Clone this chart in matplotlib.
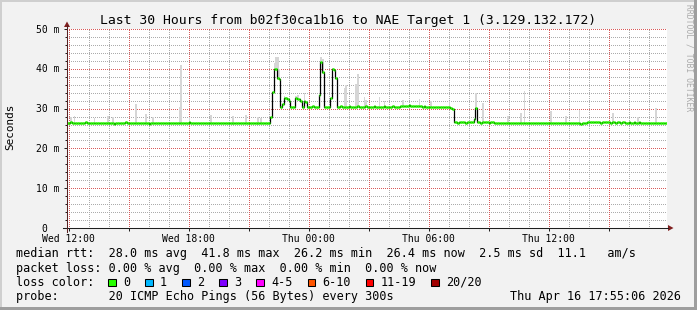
import matplotlib
matplotlib.use('Agg')
import matplotlib.pyplot as plt
from matplotlib.patches import Rectangle, Polygon
from matplotlib.lines import Line2D
from matplotlib.ticker import MultipleLocator
import numpy as np

W, H = 697, 310
MONO = 'DejaVu Sans Mono'

# ---------------- data ----------------
start_hour = 11 + 55.1 / 60      # Wed 11:55:06 (hours since Wed 00:00)
span_hours = 30
step_min = 5

median_ms = [
    26.5, 26.4, 26.6, 26.4, 26.5, 26.3, 26.4, 26.4, 26.5, 26.3, 26.4, 26.6, 26.4, 26.3, 26.4, 26.5, 26.4, 26.3, 26.4, 26.4,
    26.3, 26.4, 26.5, 26.4, 26.4, 26.3, 26.5, 26.4, 26.2, 26.4, 26.5, 26.4, 26.3, 26.4, 26.4, 26.6, 26.4, 26.3, 26.5, 26.4,
    26.4, 26.5, 26.3, 26.4, 26.4, 26.3, 26.5, 26.4, 26.4, 26.2, 26.4, 26.5, 26.3, 26.4, 26.4, 26.5, 26.3, 26.4, 26.4, 26.5,
    26.4, 26.3, 26.4, 26.5, 26.4, 26.4, 26.3, 26.4, 26.5, 26.4, 26.3, 26.4, 26.4, 26.6, 26.4, 26.3, 26.4, 26.5, 26.4, 26.4,
    26.3, 26.4, 26.5, 26.4, 26.4, 26.3, 26.4, 26.5, 26.4, 26.4, 26.3, 26.5, 26.4, 26.4, 26.3, 26.4, 26.4, 26.5, 26.4, 26.3,
    26.4, 26.4, 26.5, 26.3, 26.4, 26.4, 26.5, 26.4, 26.3, 26.4, 26.4, 26.5, 26.4, 26.4, 26.3, 26.4, 26.5, 26.4, 26.4, 26.3,
    26.4, 26.5, 27.8, 34.1, 39.9, 39.9, 37.6, 37.5, 30.5, 31.2, 32.6, 32.7, 32.4, 32.0, 30.5, 30.4, 30.5, 32.6, 32.4, 32.3,
    31.8, 30.4, 31.9, 31.7, 30.4, 30.5, 30.4, 30.6, 30.5, 30.5, 30.4, 33.4, 41.8, 39.1, 30.5, 30.5, 30.4, 30.5, 32.6, 39.9,
    39.8, 37.6, 30.5, 30.5, 30.6, 30.5, 30.4, 30.5, 30.5, 30.6, 30.5, 30.4, 30.5, 30.5, 30.6, 30.5, 30.5, 30.4, 30.5, 30.6,
    30.5, 30.5, 30.4, 30.5, 30.6, 30.5, 30.5, 30.4, 30.5, 30.5, 30.6, 30.5, 30.5, 30.4, 30.5, 30.6, 30.5, 30.5, 30.5, 30.4,
    30.6, 30.7, 30.6, 30.7, 30.6, 30.8, 30.7, 30.6, 30.7, 30.6, 30.7, 30.6, 30.6, 30.5, 30.6, 30.5, 30.5, 30.4, 30.5, 30.4,
    30.4, 30.5, 30.4, 30.3, 30.4, 30.4, 30.3, 30.4, 30.4, 30.3, 30.2, 29.9, 26.6, 26.6, 26.5, 26.6, 26.7, 26.6, 26.6, 26.5,
    26.6, 26.6, 26.7, 26.6, 27.5, 30.1, 26.6, 26.6, 26.5, 26.6, 26.6, 26.7, 26.6, 26.5, 26.6, 26.6, 26.5, 26.4, 26.4, 26.3,
    26.3, 26.4, 26.3, 26.3, 26.4, 26.3, 26.4, 26.4, 26.5, 26.4, 26.4, 26.5, 26.4, 26.4, 26.5, 26.4, 26.5, 26.4, 26.4, 26.5,
    26.4, 26.5, 26.4, 26.5, 26.4, 26.4, 26.5, 26.4, 26.5, 26.4, 26.5, 26.4, 26.4, 26.5, 26.4, 26.5, 26.4, 26.4, 26.5, 26.4,
    26.5, 26.4, 26.4, 26.5, 26.4, 26.5, 26.4, 26.3, 26.2, 26.3, 26.4, 26.5, 26.6, 26.6, 26.7, 26.6, 26.6, 26.7, 26.6, 26.6,
    26.5, 26.6, 26.6, 26.7, 26.6, 26.6, 26.5, 26.6, 26.6, 26.5, 26.6, 26.6, 26.5, 26.6, 26.6, 26.5, 26.5, 26.6, 26.5, 26.5,
    26.6, 26.5, 26.5, 26.6, 26.5, 26.5, 26.4, 26.5, 26.5, 26.4, 26.4, 26.5, 26.4, 26.4, 26.3, 26.4, 26.3, 26.3, 26.4, 26.4,
]

# smoke spikes (sample index, max ping in ms)
spike_idx = [2, 4, 16, 24, 27, 41, 47, 51, 67, 68, 73, 86, 99, 107, 114, 116,
             124, 125, 126, 127, 130, 131, 137, 138, 142, 152, 153, 159, 160,
             166, 167, 173, 174, 178, 179, 187, 190, 201, 211, 218, 229,
             245, 249, 264, 272, 274, 290, 299, 307, 327, 342, 353]
spike_top_ms = [28.0, 28.2, 27.6, 28.1, 28.0, 31.2, 28.6, 28.0, 30.5, 40.9, 27.8, 28.4, 28.1, 28.4, 28.0, 27.6,
                41.5, 42.9, 42.9, 40.0, 33.1, 33.0, 33.2, 33.5, 33.8, 43.0, 42.5, 40.2, 40.0,
                35.1, 35.9, 36.2, 38.6, 33.0, 32.2, 33.0, 32.0, 32.2, 32.4, 31.8, 31.8,
                33.8, 31.3, 28.1, 28.8, 34.3, 29.5, 28.2, 29.6, 28.8, 27.8, 30.1]

x_tick_hours = [12, 18, 24, 30, 36]
x_tick_labels = ['Wed 12:00', 'Wed 18:00', 'Thu 00:00', 'Thu 06:00', 'Thu 12:00']
y_ticks = [0, 10, 20, 30, 40, 50]
y_tick_labels = ['0', '10 m', '20 m', '30 m', '40 m', '50 m']

title = 'Last 30 Hours from b02f30ca1b16 to NAE Target 1 (3.129.132.172)'
stats_line1 = 'median rtt:  28.0 ms avg  41.8 ms max  26.2 ms min  26.4 ms now  2.5 ms sd  11.1   am/s'
stats_line2 = 'packet loss: 0.00 % avg  0.00 % max  0.00 % min  0.00 % now'
loss_title = 'loss color:'
loss_labels = ['0', '1', '2', '3', '4-5', '6-10', '11-19', '20/20']
loss_colors = ['#26ff00', '#00b8ff', '#0059ff', '#7e00ff', '#ff00ff', '#ff5500', '#ff0000', '#a10000']
probe_line = 'probe:       20 ICMP Echo Pings (56 Bytes) every 300s'
stamp = 'Thu Apr 16 17:55:06 2026'

# ---------------- figure ----------------
BG = '#f2f2f2'
fig = plt.figure(figsize=(W / 100, H / 100), dpi=100, facecolor=BG)

def fx(x):
    return x / W

def fy(y):
    return 1 - y / H

X0, X1, Y0, Y1 = 67, 667, 228, 29
ax = fig.add_axes([fx(X0), fy(Y0), (X1 - X0) / W, (Y0 - Y1) / H])
ax.set_facecolor('white')
xlo, xhi = start_hour, start_hour + span_hours
ax.set_xlim(xlo, xhi)
ax.set_ylim(0, 50)
for s in ax.spines.values():
    s.set_visible(False)

ax.xaxis.set_major_locator(MultipleLocator(3))
ax.xaxis.set_minor_locator(MultipleLocator(1))
ax.yaxis.set_major_locator(MultipleLocator(10))
ax.yaxis.set_minor_locator(MultipleLocator(2))
ax.tick_params(axis='both', which='both', labelbottom=False, labelleft=False,
               direction='out', colors='#1f1f1f', width=0.72)
ax.tick_params(axis='both', which='major', length=2.2)
ax.tick_params(axis='y', which='minor', length=1.5)
ax.tick_params(axis='x', which='minor', length=0)

# dotted rrdtool-style grid (1px on / 1px off, aligned to pixels)
DOT = (0.5, (1, 1))
GRID_MINOR = '#acacac'
GRID_MAJOR = '#d95a5a'
xmin_locs = [v for v in MultipleLocator(1).tick_values(xlo, xhi) if xlo < v < xhi]
ymin_locs = [v for v in MultipleLocator(2).tick_values(0, 50) if 0 < v <= 50]
for v in xmin_locs:
    if round(v) % 3 != 0:
        ax.axvline(v, color=GRID_MINOR, lw=0.72, linestyle=DOT, zorder=0.5)
for v in ymin_locs:
    if round(v) % 10 != 0:
        ax.axhline(v, color=GRID_MINOR, lw=0.72, linestyle=DOT, zorder=0.5)
for v in xmin_locs:
    if round(v) % 3 == 0:
        ax.axvline(v, color=GRID_MAJOR, lw=0.72, linestyle=DOT, zorder=0.6)
for v in ymin_locs:
    if round(v) % 10 == 0:
        ax.axhline(v, color=GRID_MAJOR, lw=0.72, linestyle=DOT, zorder=0.6)

med = np.array(median_ms)
step_h = step_min / 60.0
t = start_hour + np.arange(len(med)) * step_h

# smoke
si = np.array(spike_idx)
top = np.array(spike_top_ms)
ax.bar(t[si], top - med[si] + 0.3, bottom=med[si] - 0.3, width=step_h, align='edge',
       color='#d6d6d6', linewidth=0, zorder=2)

# median line
ax.step(np.r_[t, t[-1] + step_h], np.r_[med, med[-1]], where='post',
        color='black', linewidth=0.9, zorder=3)
ax.hlines(med, t, t + step_h, colors='#26ff00', linewidth=1.8, zorder=4)

# tick labels
for h, lab in zip(x_tick_hours, x_tick_labels):
    ax.annotate(lab, xy=(h, 0), xycoords='data', xytext=(0, -13.7 * 0.72),
                textcoords='offset points', ha='center', va='baseline',
                family=MONO, fontsize=7.0, color='black', annotation_clip=False)
for v, lab in zip(y_ticks, y_tick_labels):
    off_px = 7.7 if ' ' in lab else 7.7 + 2 * 5.9
    ax.annotate(lab, xy=(start_hour, v), xycoords='data',
                xytext=(-off_px * 0.72, -3.6 * 0.72), textcoords='offset points',
                ha='right', va='baseline', family=MONO, fontsize=7.0, color='black',
                annotation_clip=False)

# axes lines + arrows
fig.add_artist(Line2D([fx(63), fx(668)], [fy(228), fy(228)], color='#1f1f1f', lw=0.75))
fig.add_artist(Line2D([fx(67), fx(67)], [fy(232), fy(25)], color='#5a2020', lw=0.75))
fig.add_artist(Polygon([(fx(668), fy(225)), (fx(668), fy(231)), (fx(673.5), fy(228))],
                       closed=True, color='#801f1f', lw=0))
fig.add_artist(Polygon([(fx(64), fy(27)), (fx(70), fy(27)), (fx(67), fy(21.5))],
                       closed=True, color='#801f1f', lw=0))

# texts
fig.text(fx(348.5), fy(24), title, ha='center', va='baseline', family=MONO, fontsize=9.45)
fig.text(fx(10.5), fy(127), 'Seconds', rotation=90, ha='center', va='center',
         family=MONO, fontsize=7.9)
fig.text(fx(689.5), fy(58), 'RRDTOOL / TOBI OETIKER', rotation=270, ha='center', va='center',
         family=MONO, fontsize=5.8, color='#ababab')

LEG = 8.5
CH = 7.1  # legend char advance in px
fig.text(fx(16), fy(257.5), stats_line1, ha='left', va='baseline', family=MONO, fontsize=LEG)
fig.text(fx(16), fy(271.7), stats_line2, ha='left', va='baseline', family=MONO, fontsize=LEG)
fig.text(fx(16), fy(285.8), loss_title, ha='left', va='baseline', family=MONO, fontsize=LEG)
bx = 108.3
for lab, col in zip(loss_labels, loss_colors):
    fig.add_artist(Rectangle((fx(bx), fy(286.3)), 7.5 / W, 7.5 / H, facecolor=col,
                             edgecolor='black', lw=0.75))
    fig.text(fx(bx + 14.8), fy(285.8), lab, ha='left', va='baseline', family=MONO, fontsize=LEG)
    bx += 14.8 + CH * len(lab) + 15.1
fig.text(fx(16), fy(300.1), probe_line, ha='left', va='baseline', family=MONO, fontsize=LEG)
fig.text(fx(680.5), fy(300.1), stamp, ha='right', va='baseline', family=MONO, fontsize=LEG)

# 3D border
fig.add_artist(Rectangle((0, 1 - 2 / H), 1, 2 / H, color='#cfcfcf', lw=0))
fig.add_artist(Rectangle((0, 0), 2 / W, 1, color='#cfcfcf', lw=0))
fig.add_artist(Rectangle((0, 0), 1, 3 / H, color='#9e9e9e', lw=0))
fig.add_artist(Rectangle((1 - 3 / W, 0), 3 / W, 1, color='#9e9e9e', lw=0))

fig.savefig('out.png', dpi=100, facecolor=BG)
